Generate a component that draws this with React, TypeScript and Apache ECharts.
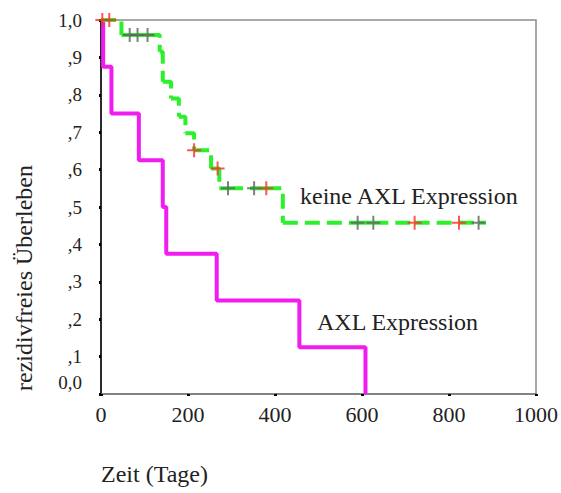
import React, { useEffect, useRef } from "react";
import * as echarts from "echarts";

// Axis ticks
const xTickValues = [0, 200, 400, 600, 800, 1000];
const yTickLabels = ["0,0", ",1", ",2", ",3", ",4", ",5", ",6", ",7", ",8", ",9", "1,0"];

// AXL Expression (magenta) – Kaplan-Meier steps: day, survival after step
const axlDays = [0, 5, 24, 87, 142, 150, 266, 456, 608];
const axlSurv = [1, 0.875, 0.75, 0.625, 0.5, 0.375, 0.25, 0.125, 0];

// keine AXL Expression (green, dashed) – events and censored points in order
const noAxlDays = [0, 47, 66, 84, 107, 135, 142, 161, 179, 194, 214, 253, 268, 272, 292, 352, 380, 418, 590, 626, 721, 823, 868, 885];
const noAxlSurv = [1, 0.96, 0.96, 0.96, 0.96, 0.915, 0.835, 0.79, 0.741, 0.697, 0.652, 0.603, 0.603, 0.55, 0.55, 0.55, 0.55, 0.458, 0.458, 0.458, 0.458, 0.458, 0.458, 0.458];

// Censor marks
const redCensorDays = [3, 19, 214, 268, 380, 721, 823];
const redCensorSurv = [1, 1, 0.652, 0.603, 0.55, 0.458, 0.458];
const grayCensorDays = [66, 84, 107, 292, 352, 590, 626, 868];
const grayCensorSurv = [0.96, 0.96, 0.96, 0.55, 0.55, 0.458, 0.458, 0.458];

const FONT = "Liberation Serif";
const TEXT = "#222";
const GREEN = "#2cf02c";
const MAGENTA = "#f01cf0";
const CROSS = "path://M6,0H8V6H14V8H8V14H6V8H0V6H6Z";

const textStyle = (text: string, align: string) => ({
  text,
  fontFamily: FONT,
  fontSize: 24,
  fill: TEXT,
  align,
  verticalAlign: "middle",
});

export default function App() {
  const ref = useRef<HTMLDivElement>(null);
  useEffect(() => {
    if (!ref.current) return;
    const chart = echarts.init(ref.current, null, { renderer: "svg" });

    const greenSeries: any[] = [];
    for (let i = 0; i < noAxlDays.length - 1; i++) {
      greenSeries.push({
        type: "line",
        step: "end",
        silent: true,
        symbol: "none",
        z: 3,
        data: [
          [noAxlDays[i], noAxlSurv[i]],
          [noAxlDays[i + 1], noAxlSurv[i + 1]],
        ],
        lineStyle: { color: GREEN, width: 4, type: [15, 7], cap: "butt" },
      });
    }

    chart.setOption({
      animation: false,
      textStyle: { fontFamily: FONT },
      grid: {
        left: 101,
        right: 22,
        top: 20,
        bottom: 99,
        show: true,
        borderColor: "#8c8c8c",
        borderWidth: 1.5,
        backgroundColor: "transparent",
      },
      xAxis: {
        type: "value",
        min: 0,
        max: 1000,
        interval: 200,
        splitLine: { show: false },
        axisLine: { show: true, lineStyle: { color: "#777", width: 1.5 } },
        axisTick: { show: true, length: 2, lineStyle: { color: "#000", width: 3 } },
        axisLabel: {
          margin: 9,
          fontSize: 22,
          fontFamily: FONT,
          color: TEXT,
          formatter: (v: number) => (xTickValues.includes(v) ? String(v) : ""),
        },
      },
      yAxis: {
        type: "value",
        min: 0,
        max: 1,
        interval: 0.1,
        splitLine: { show: false },
        axisLine: { show: true, lineStyle: { color: "#000", width: 1.5 } },
        axisTick: { show: true, length: 2, lineStyle: { color: "#000", width: 3 } },
        axisLabel: {
          margin: 19,
          fontSize: 19,
          fontFamily: FONT,
          color: TEXT,
          formatter: (v: number) => {
            const idx = Math.round(v * 10);
            if (idx === 0) return "{z|" + yTickLabels[0] + "}";
            return yTickLabels[idx] ?? "";
          },
          rich: {
            z: { fontSize: 19, fontFamily: FONT, color: TEXT, padding: [0, 0, 24, 0] },
          },
        },
      },
      graphic: [
        { type: "text", x: 24, y: 278, rotation: Math.PI / 2, style: textStyle("rezidivfreies Überleben", "center") },
        { type: "text", x: 101, y: 474, style: textStyle("Zeit (Tage)", "left") },
        { type: "text", x: 300, y: 196, style: textStyle("keine AXL Expression", "left") },
        { type: "text", x: 317, y: 322, style: textStyle("AXL Expression", "left") },
      ],
      series: [
        {
          type: "line",
          step: "end",
          silent: true,
          symbol: "none",
          z: 2,
          data: axlDays.map((d, i) => [d, axlSurv[i]]),
          lineStyle: { color: MAGENTA, width: 4 },
        },
        ...greenSeries,
        {
          type: "scatter",
          silent: true,
          symbol: CROSS,
          symbolSize: 14,
          z: 5,
          data: grayCensorDays.map((d, i) => [d, grayCensorSurv[i]]),
          itemStyle: { color: "#606060" },
        },
        {
          type: "scatter",
          silent: true,
          symbol: CROSS,
          symbolSize: 14,
          z: 6,
          data: redCensorDays.map((d, i) => [d, redCensorSurv[i]]),
          itemStyle: { color: "#ff2a2a" },
        },
      ],
    });
    return () => chart.dispose();
  }, []);
  return <div ref={ref} style={{ width: 561, height: 493, position: "absolute", left: 0, top: 0 }} />;
}
